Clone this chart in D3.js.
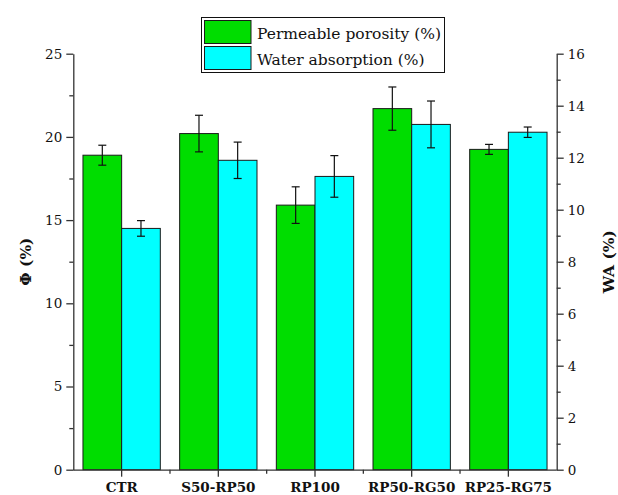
<!DOCTYPE html>
<html>
<head>
<meta charset="utf-8">
<script src="https://cdn.jsdelivr.net/npm/d3@7"></script>
<style>
  html, body { margin: 0; padding: 0; background: #fff; }
  svg { display: block; }
  text { font-family: "DejaVu Serif", serif; fill: #111; }
</style>
</head>
<body>
<svg id="chart" width="618" height="495"></svg>
<script>
// Mix designations
const categories = ["CTR", "S50-RP50", "RP100", "RP50-RG50", "RP25-RG75"];
// Permeable porosity Φ (%) with standard deviation
const porosity = [18.9, 20.2, 15.9, 21.7, 19.25];
const porosityErr = [0.6, 1.1, 1.1, 1.3, 0.3];
// Water absorption WA (%) with standard deviation
const absorption = [9.28, 11.9, 11.28, 13.28, 12.98];
const absorptionErr = [0.3, 0.7, 0.8, 0.9, 0.2];
// Axis ticks
const leftTicks = [0, 5, 10, 15, 20, 25];
const leftMinor = [2.5, 7.5, 12.5, 17.5, 22.5];
const rightTicks = [0, 2, 4, 6, 8, 10, 12, 14, 16];
const rightMinor = [1, 3, 5, 7, 9, 11, 13, 15];
const seriesNames = ["Permeable porosity (%)", "Water absorption (%)"];

const svg = d3.select("#chart");
const plotLeft = 73.3, plotRight = 556.7, plotTop = 53.7, plotBottom = 469.7;

const x = d3.scaleBand().domain(categories).range([plotLeft, plotRight])
  .paddingInner(0.2).paddingOuter(0.1);
const xs = d3.scaleBand().domain([0, 1]).range([0, x.bandwidth()]);
const yL = d3.scaleLinear().domain([0, 25]).range([plotBottom, plotTop]);
const yR = d3.scaleLinear().domain([0, 16]).range([plotBottom, plotTop]);

const green = "#00dd00", cyan = "#00ffff";

// Bars
const series = [
  { vals: porosity, err: porosityErr, y: yL, fill: green },
  { vals: absorption, err: absorptionErr, y: yR, fill: cyan }
];
series.forEach((s, si) => {
  const g = svg.append("g");
  g.selectAll("rect").data(categories).join("rect")
    .attr("x", c => x(c) + xs(si))
    .attr("width", xs.bandwidth())
    .attr("y", (c, i) => s.y(s.vals[i]))
    .attr("height", (c, i) => plotBottom - s.y(s.vals[i]))
    .attr("fill", s.fill)
    .attr("stroke", "#1a1a1a")
    .attr("stroke-width", 1);
});
// Error bars
series.forEach((s, si) => {
  const g = svg.append("g").attr("stroke", "#111").attr("stroke-width", 1.2);
  categories.forEach((c, i) => {
    const cx = x(c) + xs(si) + xs.bandwidth() / 2;
    const hi = s.y(s.vals[i] + s.err[i]), lo = s.y(s.vals[i] - s.err[i]);
    g.append("line").attr("x1", cx).attr("x2", cx).attr("y1", hi).attr("y2", lo);
    g.append("line").attr("x1", cx - 4).attr("x2", cx + 4).attr("y1", hi).attr("y2", hi);
    g.append("line").attr("x1", cx - 4).attr("x2", cx + 4).attr("y1", lo).attr("y2", lo);
  });
});

const axisColor = "#333";
function styleAxis(g) {
  g.selectAll("path, line").attr("stroke", axisColor).attr("stroke-width", 1.3);
  g.selectAll("text").attr("fill", "#111");
}

// Left axis
const gL = svg.append("g").attr("transform", `translate(${plotLeft},0)`)
  .call(d3.axisLeft(yL).tickValues(leftTicks).tickSize(7).tickSizeOuter(0).tickPadding(4))
  .call(styleAxis);
gL.selectAll("text").style("font-size", "13.5px");
svg.append("g").attr("transform", `translate(${plotLeft},0)`)
  .call(d3.axisLeft(yL).tickValues(leftMinor).tickSize(4).tickFormat(""))
  .call(g => g.select(".domain").remove()).call(styleAxis);

// Right axis
const gR = svg.append("g").attr("transform", `translate(${plotRight},0)`)
  .call(d3.axisRight(yR).tickValues(rightTicks).tickSize(7).tickSizeOuter(0).tickPadding(4))
  .call(styleAxis);
gR.selectAll("text").style("font-size", "13.5px");
svg.append("g").attr("transform", `translate(${plotRight},0)`)
  .call(d3.axisRight(yR).tickValues(rightMinor).tickSize(4).tickFormat(""))
  .call(g => g.select(".domain").remove()).call(styleAxis);

// Bottom axis: major ticks at group centres, minor ticks between groups
const gB = svg.append("g").attr("transform", `translate(0,${plotBottom})`)
  .call(d3.axisBottom(x).tickSize(7).tickSizeOuter(0).tickPadding(6))
  .call(styleAxis);
gB.select(".domain").attr("d", `M${plotLeft},0.5H${plotRight}`);
gB.selectAll("text").style("font-size", "13.5px").style("font-weight", "bold");
const step = x.step();
const boundaries = categories.slice(1).map(c => x(c) - step * x.paddingInner() / 2);
svg.append("g").attr("stroke", axisColor).attr("stroke-width", 1.3)
  .selectAll("line").data(boundaries).join("line")
  .attr("x1", d => d).attr("x2", d => d)
  .attr("y1", plotBottom).attr("y2", plotBottom + 4);

// Axis titles
svg.append("text")
  .attr("transform", `translate(31,${(plotTop + plotBottom) / 2}) rotate(-90)`)
  .attr("text-anchor", "middle")
  .style("font-size", "15.5px").style("font-weight", "bold")
  .text("Φ (%)");
svg.append("text")
  .attr("transform", `translate(614,${(plotTop + plotBottom) / 2}) rotate(-90)`)
  .attr("text-anchor", "middle")
  .style("font-size", "15.5px").style("font-weight", "bold")
  .text("WA (%)");

// Legend
const lg = svg.append("g");
lg.append("rect").attr("x", 201.5).attr("y", 17.5).attr("width", 243).attr("height", 55)
  .attr("fill", "#fff").attr("stroke", "#111").attr("stroke-width", 1);
[green, cyan].forEach((col, i) => {
  lg.append("rect").attr("x", 204.5).attr("y", 20.5 + i * 26).attr("width", 46.5).attr("height", 23)
    .attr("fill", col).attr("stroke", "#1a1a1a").attr("stroke-width", 1);
  lg.append("text").attr("x", 257).attr("y", 38.5 + i * 26)
    .style("font-size", "15.5px").text(seriesNames[i]);
});
</script>
</body>
</html>
